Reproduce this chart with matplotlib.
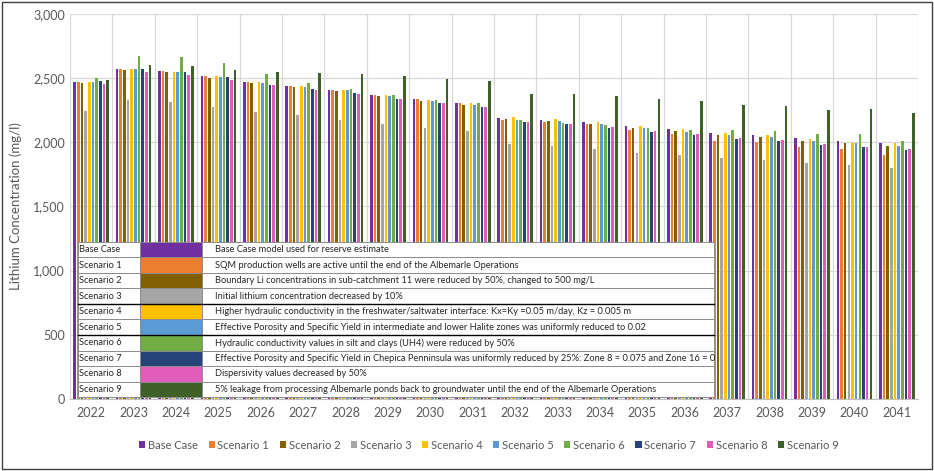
import numpy as np
import matplotlib
matplotlib.use('Agg')
import matplotlib.pyplot as plt
from matplotlib.patches import Rectangle

plt.rcParams['font.family'] = ['Lato', 'DejaVu Sans']

##### Data #####
years = [str(y) for y in range(2022, 2042)]
series_names = ['Base Case', 'Scenario 1', 'Scenario 2', 'Scenario 3', 'Scenario 4',
                'Scenario 5', 'Scenario 6', 'Scenario 7', 'Scenario 8', 'Scenario 9']
series_colors = ['#7030A0', '#ED7D31', '#806000', '#A5A5A5', '#FFC000',
                 '#5B9BD5', '#70AD47', '#264478', '#E15BBA', '#3F6128']

base_case = [2473, 2574, 2556, 2515, 2470, 2439, 2405, 2369, 2335, 2304,
             2190, 2177, 2156, 2128, 2104, 2073, 2057, 2034, 2013, 1992]
scenario_1 = [2473, 2574, 2553, 2515, 2470, 2439, 2408, 2369, 2335, 2304,
              2174, 2159, 2143, 2096, 2062, 2013, 2000, 1966, 1951, 1901]
scenario_2 = [2460, 2567, 2546, 2504, 2460, 2429, 2398, 2359, 2322, 2294,
              2182, 2169, 2141, 2112, 2088, 2057, 2044, 2013, 1998, 1972]
scenario_3 = [2245, 2333, 2315, 2278, 2239, 2213, 2177, 2145, 2112, 2086,
              1985, 1972, 1951, 1920, 1901, 1878, 1862, 1837, 1821, 1798]
scenario_4 = [2473, 2574, 2548, 2515, 2470, 2439, 2405, 2369, 2333, 2304,
              2198, 2182, 2159, 2128, 2104, 2073, 2057, 2026, 1992, 1992]
scenario_5 = [2473, 2574, 2548, 2512, 2465, 2434, 2405, 2361, 2322, 2288,
              2177, 2167, 2146, 2112, 2083, 2055, 2039, 2008, 1992, 1972]
scenario_6 = [2504, 2673, 2665, 2616, 2535, 2463, 2419, 2369, 2333, 2304,
              2172, 2151, 2133, 2112, 2094, 2099, 2088, 2068, 2062, 2013]
scenario_7 = [2478, 2574, 2548, 2510, 2450, 2419, 2385, 2338, 2309, 2273,
              2159, 2141, 2112, 2081, 2060, 2026, 2013, 1982, 1966, 1943]
scenario_8 = [2455, 2546, 2525, 2489, 2444, 2411, 2380, 2338, 2304, 2273,
              2159, 2141, 2117, 2088, 2062, 2031, 2018, 1987, 1966, 1948]
scenario_9 = [2486, 2603, 2593, 2564, 2546, 2540, 2530, 2515, 2494, 2481,
              2380, 2375, 2364, 2335, 2320, 2288, 2281, 2255, 2260, 2231]
all_series = [base_case, scenario_1, scenario_2, scenario_3, scenario_4,
              scenario_5, scenario_6, scenario_7, scenario_8, scenario_9]

descriptions = [
    'Base Case model used for reserve estimate',
    'SQM production wells are active until the end of the Albemarle Operations',
    'Boundary Li concentrations in sub-catchment 11 were reduced by 50%, changed to 500 mg/L',
    'Initial lithium concentration decreased by 10%',
    'Higher hydraulic conductivity in the freshwater/saltwater interface: Kx=Ky =0.05 m/day, Kz = 0.005 m',
    'Effective Porosity and Specific Yield in intermediate and lower Halite zones was uniformly reduced to 0.02',
    'Hydraulic conductivity values in silt and clays (UH4) were reduced by 50%',
    'Effective Porosity and Specific Yield in Chepica Penninsula was uniformly reduced by 25%: Zone 8 = 0.075 and Zone 16 = 0',
    'Dispersivity values decreased by 50%',
    '5% leakage from processing Albemarle ponds back to groundwater until the end of the Albemarle Operations',
]

##### Plot #####
fig = plt.figure(figsize=(9.34, 4.71), dpi=100)
ax = fig.add_axes([0.0749, 0.1529, 0.9079, 0.8174])

n = len(all_series)
x = np.arange(len(years))
group_w = 0.865
slot = group_w / n
for i, (vals, name, col) in enumerate(zip(all_series, series_names, series_colors)):
    offs = -group_w / 2 + slot * (i + 0.5)
    ax.bar(x + offs, vals, width=slot * 0.72, color=col, label=name, zorder=3)

ax.set_xlim(-0.5, len(years) - 0.5)
ax.set_ylim(0, 3000)
ax.set_yticks(np.arange(0, 3001, 500))
ax.set_yticklabels([f'{v:,}' for v in range(0, 3001, 500)])
ax.set_xticks(x)
ax.set_xticklabels(years)
ax.set_xticks(np.arange(-0.5, len(years)), minor=True)
ax.grid(axis='y', color='#d9d9d9', lw=0.9, zorder=0)
ax.grid(axis='x', which='minor', color='#d9d9d9', lw=0.9, zorder=0)
ax.tick_params(axis='both', which='both', length=0, colors='#595959', labelsize=9)
ax.tick_params(axis='x', pad=6)
for s in ['top', 'right', 'left']:
    ax.spines[s].set_visible(False)
ax.spines['bottom'].set_color('#bfbfbf')
ax.set_ylabel('Lithium Concentration (mg/l)', color='#595959', fontsize=9.5, labelpad=8)

# scenario description table over the lower left of the bars
cell_text = [[nm, '', d] for nm, d in zip(series_names, descriptions)]
tbl = ax.table(cellText=cell_text, colWidths=[0.0975, 0.0975, 0.805],
               cellLoc='left', bbox=[0.0094, 0.005, 0.75, 0.403], zorder=5)
tbl.auto_set_font_size(False)
tbl.set_fontsize(6.7)
for (r, c), cell in tbl.get_celld().items():
    cell.set_edgecolor('#8c8c8c')
    cell.set_linewidth(0.7)
    cell.PAD = 0.025
    if c == 1:
        cell.set_facecolor(series_colors[r])
    else:
        cell.set_facecolor('white')
    cell.get_text().set_color('#262626')

# darker separators in the table (below Scenario 3 and Scenario 5)
row_h = 0.403 / n
for k in [4, 6]:
    yy = 0.408 - row_h * k
    ax.plot([0.0094, 0.7594], [yy, yy], transform=ax.transAxes, color='black',
            lw=1.0, zorder=6, clip_on=False)

ax.legend(loc='center', bbox_to_anchor=(0.494, -0.12), ncol=10, frameon=False,
          fontsize=8.0, handlelength=0.55, handleheight=0.55, handletextpad=0.25,
          columnspacing=0.95, labelcolor='#595959')

fig.patches.append(Rectangle((0.002, 0.004), 0.996, 0.992, transform=fig.transFigure,
                             fill=False, edgecolor='#404040', lw=1.0))

fig.savefig('out.png', dpi=100)
